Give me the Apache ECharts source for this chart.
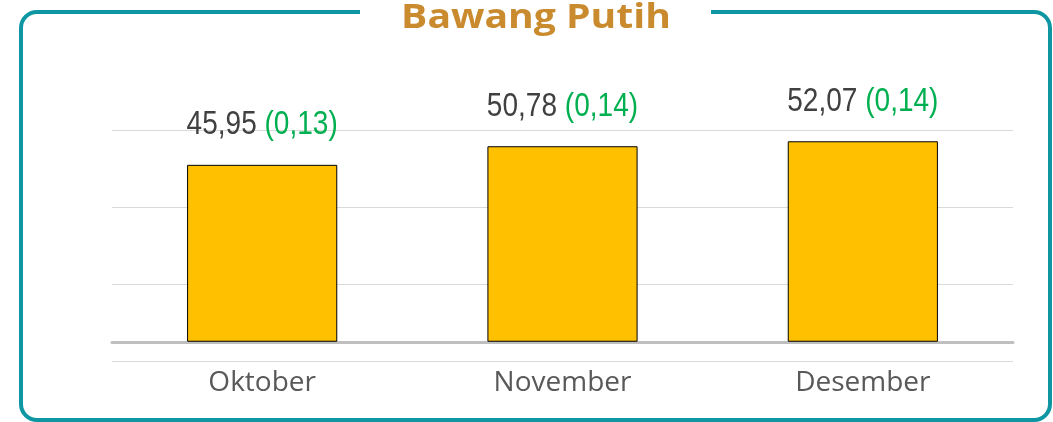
<!DOCTYPE html>
<html>
<head>
<meta charset="utf-8">
<script src="https://cdn.jsdelivr.net/npm/echarts@6/dist/echarts.min.js"></script>
<style>
html,body{margin:0;padding:0;background:#fff;}
#chart{width:1053px;height:422px;}
</style>
</head>
<body>
<div id="chart"></div>
<script>
const title = 'Bawang Putih';
const categories = ['Oktober', 'November', 'Desember'];
const values = [45.95, 50.78, 52.07];
const changes = ['0,13', '0,14', '0,14'];
const yMin = -5, yMax = 55, yInterval = 20;

const fmt = v => v.toFixed(2).replace('.', ',');

const chart = echarts.init(document.getElementById('chart'));
chart.setOption({
  animation: false,
  backgroundColor: '#ffffff',
  grid: { left: 112, right: 40, top: 130, bottom: 61 },
  xAxis: {
    type: 'category',
    data: categories,
    axisLine: { onZero: true, lineStyle: { color: '#bfbfbf', width: 3 } },
    axisTick: { show: false },
    axisLabel: { color: '#595959', fontFamily: 'Open Sans', fontSize: 28, margin: 8 }
  },
  yAxis: {
    type: 'value',
    min: yMin, max: yMax, interval: yInterval,
    axisLabel: { show: false },
    axisLine: { show: false },
    axisTick: { show: false },
    splitLine: { lineStyle: { color: '#d9d9d9', width: 1 } }
  },
  series: [
    {
      type: 'bar',
      barWidth: '50%',
      data: values,
      itemStyle: { color: '#FFC000', borderColor: '#000000', borderWidth: 1 }
    },
    {
      type: 'custom',
      data: values.map((v, i) => [i, v]),
      encode: { x: 0, y: 1 },
      z: 5,
      renderItem: function (params, api) {
        const i = api.value(0);
        const v = api.value(1);
        const pt = api.coord([i, v]);
        return {
          type: 'text',
          x: pt[0],
          y: pt[1] - 23,
          scaleX: 0.85,
          style: {
            text: '{a|' + fmt(v) + '\u00a0}{b|(' + changes[i] + ')}',
            align: 'center',
            verticalAlign: 'bottom',
            rich: {
              a: { fill: '#404040', font: '33px "Liberation Sans"' },
              b: { fill: '#00B050', font: '33px "Liberation Sans"' }
            }
          }
        };
      }
    }
  ],
  graphic: [
    {
      type: 'rect',
      shape: { x: 21, y: 12, width: 1029, height: 408, r: 16 },
      style: { fill: 'none', stroke: '#0E97A3', lineWidth: 4 },
      silent: true, z: 10
    },
    {
      type: 'rect',
      shape: { x: 360, y: 0, width: 351, height: 20 },
      style: { fill: '#ffffff' },
      silent: true, z: 11
    },
    {
      type: 'text',
      x: 536,
      y: 18,
      scaleX: 1.15,
      style: { text: title, fill: '#CA8A2E', font: 'bold 34px "Open Sans"', align: 'center', verticalAlign: 'middle' },
      silent: true, z: 12
    }
  ]
});
</script>
</body>
</html>
